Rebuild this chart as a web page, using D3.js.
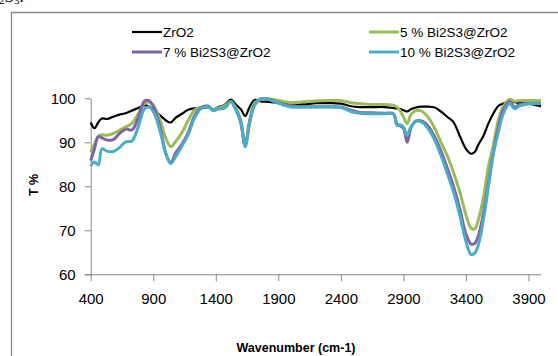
<!DOCTYPE html>
<html>
<head>
<meta charset="utf-8">
<script src="https://cdn.jsdelivr.net/npm/d3@7"></script>
<style>
  body { margin: 0; background: #fff; }
  svg { display: block; }
</style>
</head>
<body>
<div id="chart"></div>
<script>
// wavenumber samples (cm-1), shared by all four spectra
const wavenumbers = [400, 430, 460, 490, 530, 580, 630, 680, 730, 780, 830, 870, 910, 960, 1000, 1040, 1080, 1130, 1180, 1230,
  1280, 1340, 1380, 1420, 1470, 1520, 1560, 1600, 1635, 1670, 1710, 1760, 1820, 1900, 2000, 2100, 2200, 2300, 2400, 2480,
  2550, 2650, 2750, 2820, 2850, 2870, 2900, 2930, 2960, 3000, 3050, 3100, 3150, 3200, 3250, 3300, 3350, 3400, 3440, 3470,
  3500, 3540, 3580, 3620, 3660, 3700, 3750, 3790, 3830, 3900, 4000];

const zro2 = [94.5, 93.2, 94.5, 95.4, 95.3, 95.8, 96.3, 96.6, 97.2, 97.8, 98.4, 98.1, 97.3, 96.0, 95.0, 94.5, 95.6, 96.5, 97.4, 97.7,
  97.7, 98.0, 97.5, 98.0, 98.5, 99.7, 98.6, 97.5, 96.0, 98.0, 99.6, 99.3, 99.2, 98.9, 98.6, 98.6, 98.9, 98.9, 98.8, 98.2,
  98.0, 98.0, 98.0, 97.8, 97.7, 97.6, 97.3, 97.0, 97.5, 97.9, 98.1, 98.1, 97.9, 97.0, 95.8, 94.6, 91.5, 88.5, 87.4, 87.8,
  89.5, 91.5, 94.3, 96.6, 98.3, 98.8, 99.5, 99.1, 98.9, 98.8, 98.2];

const bi5 = [87.8, 89.5, 91.3, 91.7, 91.6, 92.0, 92.7, 93.5, 94.3, 96.5, 98.8, 99.1, 98.0, 94.6, 91.0, 89.0, 90.2, 92.2, 95.0, 97.3,
  98.0, 98.2, 97.4, 97.8, 98.3, 99.3, 97.9, 95.0, 89.4, 95.0, 99.0, 99.7, 99.9, 99.5, 99.0, 99.2, 99.4, 99.5, 99.5, 99.0,
  98.8, 98.6, 98.6, 98.4, 98.0, 97.3, 95.8, 94.2, 96.3, 97.2, 97.0, 95.6, 93.2, 90.0, 87.0, 83.2, 78.8, 73.5, 70.5, 70.3,
  72.5, 77.5, 84.5, 89.5, 95.2, 98.2, 99.8, 99.3, 99.5, 99.5, 99.5];

const bi7 = [85.8, 88.5, 91.3, 91.0, 90.5, 90.6, 92.0, 93.0, 92.8, 95.5, 99.4, 99.4, 97.6, 92.8, 87.5, 85.4, 87.6, 89.6, 92.2, 96.0,
  97.8, 98.2, 97.2, 97.6, 97.8, 99.3, 97.5, 94.5, 89.2, 94.5, 98.5, 99.9, 99.8, 99.0, 98.3, 98.1, 98.1, 98.1, 98.0, 97.3,
  96.8, 96.7, 96.6, 96.5, 94.0, 93.8, 93.2, 90.0, 93.3, 94.8, 94.8, 93.6, 91.2, 88.0, 84.2, 80.0, 75.0, 69.2, 66.9, 67.0,
  68.8, 74.0, 80.8, 87.8, 93.5, 97.5, 99.3, 98.0, 98.6, 98.8, 98.9];

const bi10 = [84.6, 85.5, 84.9, 88.5, 88.0, 87.9, 88.8, 90.1, 90.3, 93.5, 97.6, 98.0, 96.5, 92.0, 87.5, 85.2, 86.8, 89.2, 91.8, 95.5,
  97.6, 98.1, 97.2, 97.6, 97.8, 99.2, 97.5, 94.5, 89.0, 94.3, 98.5, 99.9, 99.8, 98.9, 98.0, 98.0, 98.0, 98.0, 97.9, 97.0,
  96.6, 96.5, 96.5, 96.4, 93.8, 94.0, 93.5, 91.6, 93.5, 94.8, 94.5, 93.0, 90.5, 87.0, 83.0, 78.8, 73.5, 67.5, 64.5, 64.8,
  66.8, 72.5, 80.0, 87.5, 92.5, 96.6, 98.8, 97.6, 98.3, 98.7, 98.8];

const seriesNames = ['ZrO2', '5 % Bi2S3@ZrO2', '7 % Bi2S3@ZrO2', '10 % Bi2S3@ZrO2'];
const seriesValues = [zro2, bi5, bi7, bi10];
const seriesColors = ['#000000', '#9bbb59', '#8064a2', '#4bacc6'];
const seriesWidths = [2.2, 3, 3, 3];

const xTicks = [400, 900, 1400, 1900, 2400, 2900, 3400, 3900];
const yTicks = [60, 70, 80, 90, 100];

const width = 558, height = 356;
const font = '"Liberation Sans", Arial, sans-serif';
const axisGrey = '#888888';

const svg = d3.select('#chart').append('svg')
  .attr('width', width)
  .attr('height', height);

// chart frame (cut off at right and bottom in the source)
svg.append('path')
  .attr('d', 'M11.5,356V12.5H558')
  .attr('fill', 'none')
  .attr('stroke', '#8c8c8c')
  .attr('stroke-width', 1.3);

// leftover caption text clipped at the top edge
const cap = svg.append('text')
  .attr('x', -1)
  .attr('y', 2)
  .attr('font-family', '"Liberation Serif", "Times New Roman", serif')
  .attr('font-size', 17)
  .attr('fill', '#000');
cap.append('tspan').attr('font-size', 11).attr('dy', 2).text('2');
cap.append('tspan').attr('dy', -2).text('S');
cap.append('tspan').attr('font-size', 11).attr('dy', 2).text('3');
cap.append('tspan').attr('dy', -2).text('.');

const xScale = d3.scaleLinear().domain([400, 4000]).range([90.7, 541]);
const yScale = d3.scaleLinear().domain([60, 100]).range([274.3, 98.3]);

// y axis
const yAxis = svg.append('g')
  .attr('transform', `translate(${xScale.range()[0]},0)`)
  .call(d3.axisLeft(yScale).tickValues(yTicks).tickSize(6).tickPadding(9).tickSizeOuter(0));
yAxis.select('.domain').attr('stroke', axisGrey);
yAxis.selectAll('.tick line').attr('stroke', axisGrey);
yAxis.selectAll('.tick text')
  .attr('font-family', font)
  .attr('font-size', 15)
  .attr('fill', '#000');

// x axis
const xAxis = svg.append('g')
  .attr('transform', `translate(0,${yScale.range()[0]})`)
  .call(d3.axisBottom(xScale).tickValues(xTicks).tickFormat(d3.format('d'))
    .tickSize(7).tickPadding(12).tickSizeOuter(0));
xAxis.select('.domain')
  .attr('stroke', axisGrey)
  .attr('d', `M${xScale.range()[0] - 6},0.5H${xScale.range()[1]}`);
xAxis.selectAll('.tick line').attr('stroke', axisGrey);
xAxis.selectAll('.tick text')
  .attr('font-family', font)
  .attr('font-size', 15)
  .attr('fill', '#000');

// axis titles
svg.append('text')
  .attr('x', 296)
  .attr('y', 352)
  .attr('text-anchor', 'middle')
  .attr('font-family', font)
  .attr('font-weight', 'bold')
  .attr('font-size', 12.5)
  .text('Wavenumber (cm-1)');

svg.append('text')
  .attr('transform', 'translate(38,185) rotate(-90)')
  .attr('text-anchor', 'middle')
  .attr('font-family', font)
  .attr('font-weight', 'bold')
  .attr('font-size', 12.5)
  .text('T %');

// spectra
const line = d3.line()
  .x((d, i) => xScale(wavenumbers[i]))
  .y(d => yScale(d))
  .curve(d3.curveCatmullRom);

svg.append('g')
  .selectAll('path')
  .data(seriesValues)
  .join('path')
  .attr('fill', 'none')
  .attr('stroke', (d, i) => seriesColors[i])
  .attr('stroke-width', (d, i) => seriesWidths[i])
  .attr('stroke-linejoin', 'round')
  .attr('d', line);

// legend, two columns
const legendPos = [[132, 32], [369, 32], [132, 52], [369, 52]];
const legend = svg.append('g')
  .selectAll('g')
  .data(seriesNames)
  .join('g')
  .attr('transform', (d, i) => `translate(${legendPos[i][0]},${legendPos[i][1]})`);
legend.append('line')
  .attr('x1', 0).attr('x2', 30)
  .attr('stroke', (d, i) => seriesColors[i])
  .attr('stroke-width', (d, i) => seriesWidths[i]);
legend.append('text')
  .attr('x', 31)
  .attr('dy', '0.35em')
  .attr('font-family', font)
  .attr('font-size', 13.5)
  .text(d => d);
</script>
</body>
</html>
